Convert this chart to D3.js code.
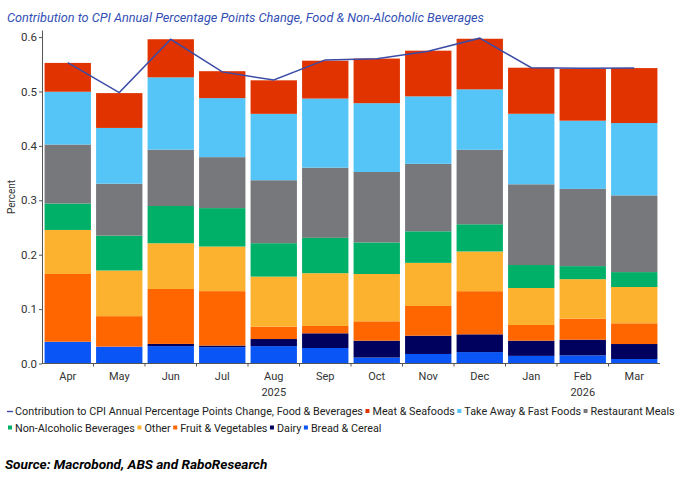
<!DOCTYPE html>
<html>
<head>
<meta charset="utf-8">
<script src="https://cdn.jsdelivr.net/npm/d3@7"></script>
<style>
  body { margin: 0; background: #fff; }
  text { font-family: Roboto, "Noto Sans", sans-serif; }
</style>
</head>
<body>
<svg id="chart" width="696" height="496"></svg>
<script>
// months and the year labels under them
const months = ["Apr", "May", "Jun", "Jul", "Aug", "Sep", "Oct", "Nov", "Dec", "Jan", "Feb", "Mar"]
const yearLabels = [{ month: "Aug", year: "2025" }, { month: "Feb", year: "2026" }]

// series values, percentage points
const breadCereal = [0.040, 0.031, 0.032, 0.030, 0.032, 0.0285, 0.011, 0.0175, 0.021, 0.014, 0.015, 0.0083]
const dairy = [0.000, 0.000, 0.004, 0.003, 0.013, 0.027, 0.031, 0.0336, 0.0326, 0.028, 0.0288, 0.0275]
const fruitVeg = [0.1245, 0.056, 0.101, 0.100, 0.0227, 0.0135, 0.0355, 0.0546, 0.0793, 0.0288, 0.0386, 0.0381]
const other = [0.081, 0.084, 0.084, 0.082, 0.092, 0.097, 0.087, 0.0793, 0.073, 0.068, 0.0726, 0.0667]
const nonAlcoholic = [0.0485, 0.064, 0.0685, 0.0706, 0.0614, 0.065, 0.058, 0.058, 0.050, 0.0422, 0.024, 0.0274]
const restaurantMeals = [0.1085, 0.0955, 0.1035, 0.0937, 0.1158, 0.129, 0.1295, 0.124, 0.137, 0.1484, 0.142, 0.141]
const takeAway = [0.097, 0.1025, 0.133, 0.1085, 0.122, 0.127, 0.1265, 0.124, 0.111, 0.1296, 0.1253, 0.133]
const meatSeafoods = [0.053, 0.064, 0.070, 0.0495, 0.0616, 0.0696, 0.082, 0.084, 0.093, 0.0847, 0.0957, 0.101]
const foodBeverages = [0.553, 0.498, 0.596, 0.536, 0.521, 0.558, 0.560, 0.574, 0.598, 0.5437, 0.5426, 0.543]

const yTicks = [0, 0.1, 0.2, 0.3, 0.4, 0.5, 0.6]

// stacking order bottom -> top
const series = [
  { key: "Bread & Cereal", values: breadCereal, color: "#0a55f5" },
  { key: "Dairy", values: dairy, color: "#00005e" },
  { key: "Fruit & Vegetables", values: fruitVeg, color: "#ff6600" },
  { key: "Other", values: other, color: "#fdb22f" },
  { key: "Non-Alcoholic Beverages", values: nonAlcoholic, color: "#00b068" },
  { key: "Restaurant Meals", values: restaurantMeals, color: "#77787b" },
  { key: "Take Away & Fast Foods", values: takeAway, color: "#55c4f7" },
  { key: "Meat & Seafoods", values: meatSeafoods, color: "#e03300" },
]
const lineName = "Contribution to CPI Annual Percentage Points Change, Food & Beverages"
const lineColor = "#3b4ca6"

// legend layout: rows of series keys, line first
const legendRows = [
  [lineName, "Meat & Seafoods", "Take Away & Fast Foods", "Restaurant Meals"],
  ["Non-Alcoholic Beverages", "Other", "Fruit & Vegetables", "Dairy", "Bread & Cereal"],
]

const svg = d3.select("#chart")

const x = d3.scaleBand().domain(months).range([42, 660]).paddingInner(0.1).paddingOuter(0.05)
const y = d3.scaleLinear().domain([0, 0.613]).range([363.5, 30])

// build table for d3.stack
const table = months.map((m, i) => {
  const row = { month: m }
  series.forEach((s) => (row[s.key] = s.values[i]))
  return row
})
const stacked = d3.stack().keys(series.map((s) => s.key))(table)
const colorOf = new Map(series.map((s) => [s.key, s.color]))

// title
svg.append("text")
  .attr("x", 7)
  .attr("y", 22)
  .attr("fill", "#3350b5")
  .attr("font-size", 12.7)
  .attr("font-style", "italic")
  .text("Contribution to CPI Annual Percentage Points Change, Food & Non-Alcoholic Beverages")

// bars
svg.append("g")
  .selectAll("g")
  .data(stacked)
  .join("g")
  .attr("fill", (d) => colorOf.get(d.key))
  .selectAll("rect")
  .data((d) => d)
  .join("rect")
  .attr("x", (d) => x(d.data.month))
  .attr("width", x.bandwidth())
  .attr("y", (d) => y(d[1]))
  .attr("height", (d) => Math.max(0, y(d[0]) - y(d[1])))

// total line
const line = d3.line()
  .x((d, i) => x(months[i]) + x.bandwidth() / 2)
  .y((d) => y(d))
svg.append("path")
  .datum(foodBeverages)
  .attr("d", line)
  .attr("fill", "none")
  .attr("stroke", lineColor)
  .attr("stroke-width", 1.5)

// y axis
const yAxis = svg.append("g")
  .attr("transform", "translate(42,0)")
  .call(d3.axisLeft(y).tickValues(yTicks).tickFormat(d3.format(".1f")).tickSize(3).tickSizeOuter(0))
yAxis.select(".domain").attr("stroke", "#555")
yAxis.selectAll(".tick line").attr("stroke", "#555")
yAxis.selectAll(".tick text")
  .attr("font-family", "Roboto, sans-serif")
  .attr("font-size", 11.5)
  .attr("fill", "#333")
  .attr("x", -5)

svg.append("text")
  .attr("transform", "translate(15,197) rotate(-90)")
  .attr("text-anchor", "middle")
  .attr("font-size", 10)
  .attr("fill", "#333")
  .text("Percent")

// x axis: baseline, ticks at band edges, month labels
const xAxis = svg.append("g").attr("transform", `translate(0,${y(0)})`)
xAxis.append("line")
  .attr("x1", 42).attr("x2", 660)
  .attr("stroke", "#555")
const gap = x.step() * x.paddingInner()
xAxis.selectAll("line.edge")
  .data(months.slice(1))
  .join("line")
  .attr("class", "edge")
  .attr("x1", (d) => x(d) - gap / 2)
  .attr("x2", (d) => x(d) - gap / 2)
  .attr("y1", 0).attr("y2", 3)
  .attr("stroke", "#555")
xAxis.selectAll("text.month")
  .data(months)
  .join("text")
  .attr("class", "month")
  .attr("x", (d) => x(d) + x.bandwidth() / 2)
  .attr("y", 16)
  .attr("text-anchor", "middle")
  .attr("font-size", 11)
  .attr("fill", "#333")
  .text((d) => d)
xAxis.selectAll("text.year")
  .data(yearLabels)
  .join("text")
  .attr("class", "year")
  .attr("x", (d) => x(d.month) + x.bandwidth() / 2)
  .attr("y", 32)
  .attr("text-anchor", "middle")
  .attr("font-size", 11)
  .attr("fill", "#333")
  .text((d) => d.year)

// legend
const legend = svg.append("g").attr("font-size", 10.8)
legendRows.forEach((row, r) => {
  let cx = 7
  const ly = 415 + r * 16.5
  row.forEach((key) => {
    const g = legend.append("g").attr("transform", `translate(${cx},${ly})`)
    if (key === lineName) {
      g.append("line").attr("x1", 0).attr("x2", 6).attr("y1", -3.5).attr("y2", -3.5)
        .attr("stroke", lineColor).attr("stroke-width", 1.4)
    } else {
      g.append("rect").attr("x", 1).attr("y", -6).attr("width", 4).attr("height", 4)
        .attr("fill", colorOf.get(key))
    }
    const t = g.append("text").attr("x", 8).attr("y", 0).attr("fill", "#222").text(key)
    cx += 8 + t.node().getComputedTextLength() + 1.5
  })
})

// source note
svg.append("text")
  .attr("x", 5)
  .attr("y", 469)
  .attr("font-size", 13.6)
  .attr("font-weight", "bold")
  .attr("font-style", "italic")
  .attr("fill", "#000")
  .text("Source: Macrobond, ABS and RaboResearch")
</script>
</body>
</html>
